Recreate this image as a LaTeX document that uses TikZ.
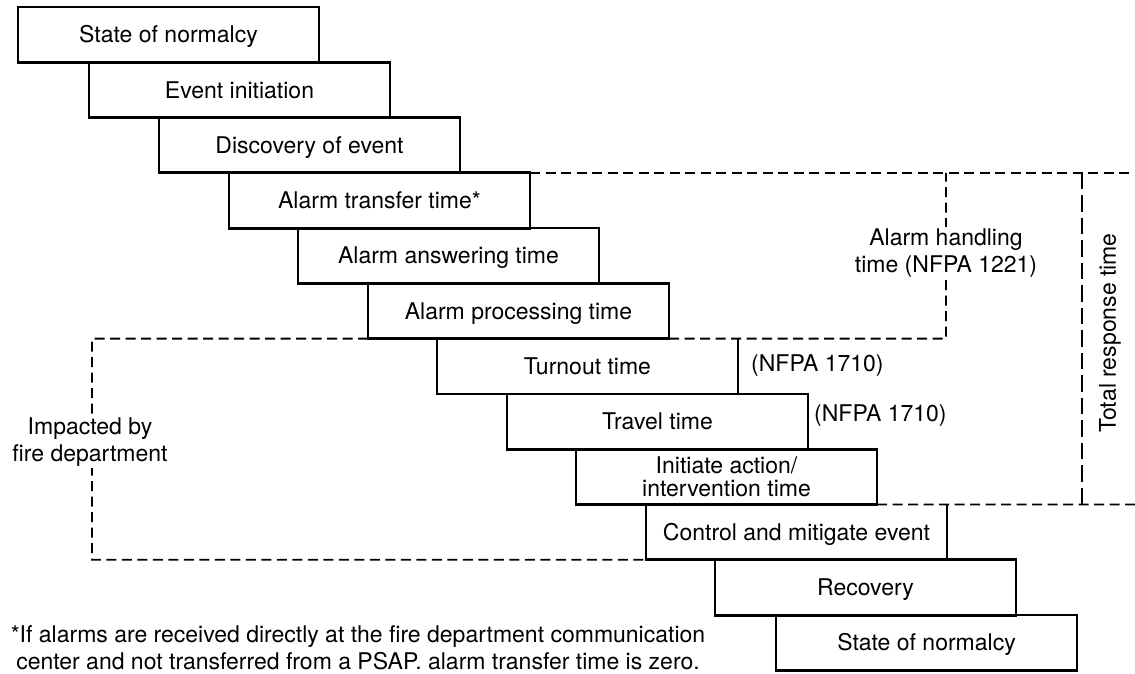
\documentclass[tikz,border=0pt]{standalone}
\usepackage{fontspec}
\setmainfont{TeX Gyre Heros}
\begin{document}
\begin{tikzpicture}[x=1pt,y=-1pt,
  box/.style={line width=2.8pt, minimum width=301pt, minimum height=55.3pt,
    inner sep=0pt, outer sep=0pt, anchor=north west,
    font=\fontsize{23}{23}\selectfont, align=center},
  closedbox/.style={box, draw},
  openbox/.style={box, draw=none},
  oneline/.style={text height=16.5pt, text depth=0pt},
  boxline/.style={line width=2.8pt},
  dsh/.style={line width=1.8pt, dash pattern=on 10pt off 5.5pt},
  tdsh/.style={line width=1.8pt, dash pattern=on 16.5pt off 6pt},
  lbl/.style={font=\fontsize{23}{26.5}\selectfont, align=center, inner sep=2pt}]
\useasboundingbox (0,0) rectangle (1135,674);

% staircase of boxes
\node[closedbox, oneline] (b1)  at (18,7)      {State of normalcy};
\node[closedbox, oneline] (b2)  at (89,62.3)   {Event initiation};
\node[closedbox, oneline] (b3)  at (159,117.5) {Discovery of event};
\node[closedbox, oneline] (b4)  at (229,172.8) {Alarm transfer time*};
\node[closedbox, oneline] (b5)  at (298,228)   {Alarm answering time};
\node[closedbox, oneline] (b6)  at (368,283.3) {Alarm processing time};
\node[openbox, oneline]   (b7)  at (437,338.6) {Turnout time};
\node[closedbox, oneline] (b8)  at (507,393.9) {Travel time};
\node[closedbox]          (b9)  at (576,449.2) {Initiate action/\\intervention time};
\node[openbox, oneline]   (b10) at (646,504.5) {Control and mitigate event};
\node[closedbox, oneline] (b11) at (715,559.8) {Recovery};
\node[closedbox, oneline] (b12) at (776,615)   {State of normalcy};

% boxes whose top edge is partly replaced by dashes
\draw[boxline] (b7.north west) |- (b7.south east) -- (b7.north east);
\draw[boxline] (b10.north west) |- (b10.south east) -- (b10.north east);

% dashed brackets
\coordinate (tr)   at (1135,172.8);
\coordinate (ah)   at (946,172.8);
\coordinate (ahb)  at (946,338.6);
\coordinate (fdtl) at (92,338.6);
\coordinate (fdbl) at (92,559.8);
\coordinate (br)   at (1135,504.5);
\coordinate (trt)  at (1082,172.8);
\coordinate (trb)  at (1082,504.5);

\draw[dsh] (b4.north east) -- (tr);
\draw[dsh] (b6.south east) -- (ahb) -- (ah);
\draw[dsh] (b6.south west) -- (fdtl) -- (fdbl) -- (b10.south west);
\draw[dsh] (b9.south east) -- (br);
\draw[tdsh] (trt) -- (trb);

% labels
\node[lbl, fill=white] (ahl) at (946,253) {Alarm handling\\time (NFPA 1221)};
\node[lbl, fill=white] (fdl) at (90,442) {Impacted by\\fire department};
\node[lbl, rotate=90] (trl) at (1110,333) {Total response time};
\node[lbl, anchor=west] (n1) at (749,366) {(NFPA 1710)};
\node[lbl, anchor=west] (n2) at (812,416) {(NFPA 1710)};
\node[lbl, inner sep=0pt] (fn) at (358,648) {*If alarms are received directly at the fire department communication\\center and not transferred from a PSAP. alarm transfer time is zero.};
\end{tikzpicture}
\end{document}
